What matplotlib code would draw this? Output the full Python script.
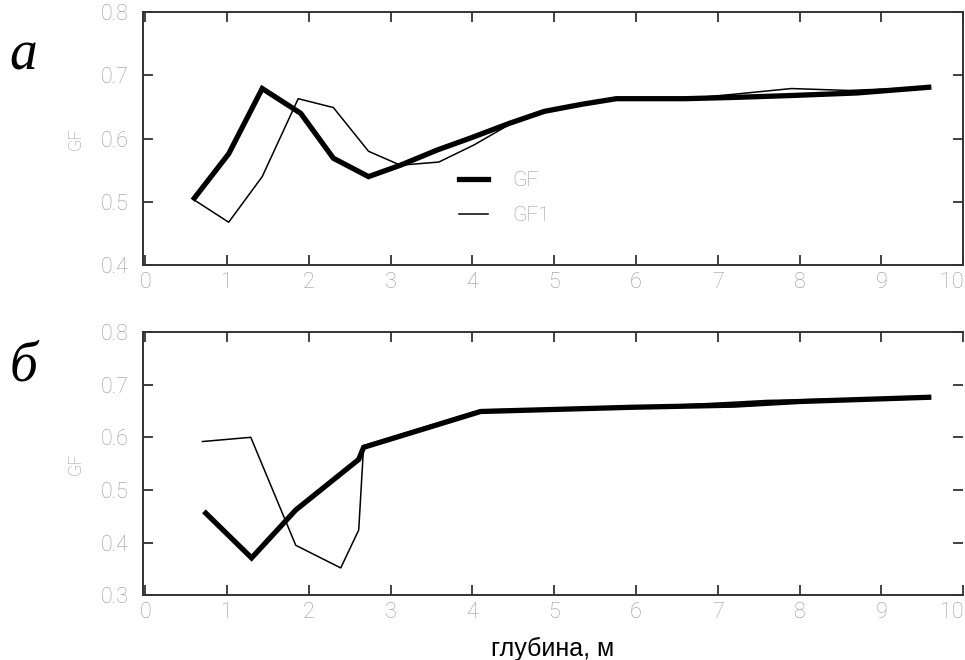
import matplotlib
matplotlib.use('Agg')
import matplotlib.pyplot as plt
import numpy as np

# top panel (а)
depth_a = [0.60, 1.02, 1.43, 1.90, 2.30, 2.73, 3.12, 3.57, 4.00, 4.45, 4.88, 5.33, 5.76, 6.60, 7.20, 7.90, 8.70, 9.58]
gf_a = [0.506, 0.576, 0.679, 0.640, 0.569, 0.540, 0.558, 0.582, 0.602, 0.624, 0.643, 0.654, 0.663, 0.663, 0.665, 0.668, 0.672, 0.681]
depth1_a = [0.60, 1.02, 1.43, 1.87, 2.30, 2.73, 3.12, 3.59, 4.02, 4.45, 4.88, 5.33, 5.76, 6.60, 7.20, 7.90, 8.60, 9.58]
gf1_a = [0.503, 0.468, 0.540, 0.663, 0.649, 0.580, 0.558, 0.563, 0.590, 0.622, 0.643, 0.654, 0.663, 0.663, 0.670, 0.679, 0.676, 0.681]

# bottom panel (б)
depth_b = [0.74, 1.30, 1.84, 2.61, 2.67, 4.10, 5.94, 7.20, 8.00, 9.58]
gf_b = [0.456, 0.371, 0.462, 0.558, 0.581, 0.649, 0.657, 0.661, 0.668, 0.676]
depth1_b = [0.70, 1.29, 1.84, 2.39, 2.61, 2.67, 4.10, 5.94, 7.00, 7.60, 9.58]
gf1_b = [0.592, 0.600, 0.395, 0.352, 0.424, 0.584, 0.652, 0.657, 0.665, 0.670, 0.676]

grey = '#999999'
spine = '#333333'
plt.rcParams['font.family'] = ['Roboto', 'DejaVu Sans']

fig = plt.figure(figsize=(9.65, 6.6), dpi=100)
ax1 = fig.add_axes([0.148, 0.598, 0.850, 0.384])
ax2 = fig.add_axes([0.148, 0.098, 0.850, 0.399])


def style(ax, ylim, yticks):
    ax.set_xlim(-0.03, 10)
    ax.set_ylim(*ylim)
    ax.set_xticks(range(0, 11))
    ax.set_yticks(yticks)
    ax.set_yticklabels(['%.1f' % v for v in yticks])
    ax.tick_params(direction='in', length=7, width=1.3, color=spine,
                   top=True, right=True, labelsize=15.5, labelcolor=grey)
    ax.tick_params(axis='y', pad=10)
    ax.tick_params(axis='x', pad=5)
    for t in ax.get_xticklabels() + ax.get_yticklabels():
        t.set_fontweight('light')
    ax.get_xticklabels()[-1].set_horizontalalignment('right')
    for s in ax.spines.values():
        s.set_color(spine)
        s.set_linewidth(1.4)
    ax.set_ylabel('GF', color=grey, fontsize=13, fontweight='light', labelpad=12)


ax1.plot(depth_a, gf_a, color='black', lw=3.8, label='GF', solid_joinstyle='miter')
ax1.plot(depth1_a, gf1_a, color='black', lw=1.1, label='GF1')
style(ax1, (0.4, 0.8), [0.4, 0.5, 0.6, 0.7, 0.8])
leg = ax1.legend(loc='upper left', bbox_to_anchor=(0.362, 0.445), frameon=False,
                 fontsize=15, handlelength=1.4, handletextpad=1.2, labelspacing=0.75)
for t in leg.get_texts():
    t.set_color(grey)
    t.set_fontweight('light')

ax2.plot(depth_b, gf_b, color='black', lw=3.8, solid_joinstyle='miter')
ax2.plot(depth1_b, gf1_b, color='black', lw=1.1)
style(ax2, (0.3, 0.8), [0.3, 0.4, 0.5, 0.6, 0.7, 0.8])
ax2.spines['right'].set_visible(False)
ax2.set_xlabel('глубина, м', fontsize=18, family=['Liberation Sans', 'DejaVu Sans'],
               labelpad=10)

fig.text(0.01, 0.894, 'а', fontsize=40, style='italic', va='baseline',
         family=['Liberation Serif', 'DejaVu Serif'])
fig.text(0.01, 0.424, 'б', fontsize=40, style='italic', va='baseline',
         family=['Liberation Serif', 'DejaVu Serif'])

fig.savefig('out.png', dpi=100)
